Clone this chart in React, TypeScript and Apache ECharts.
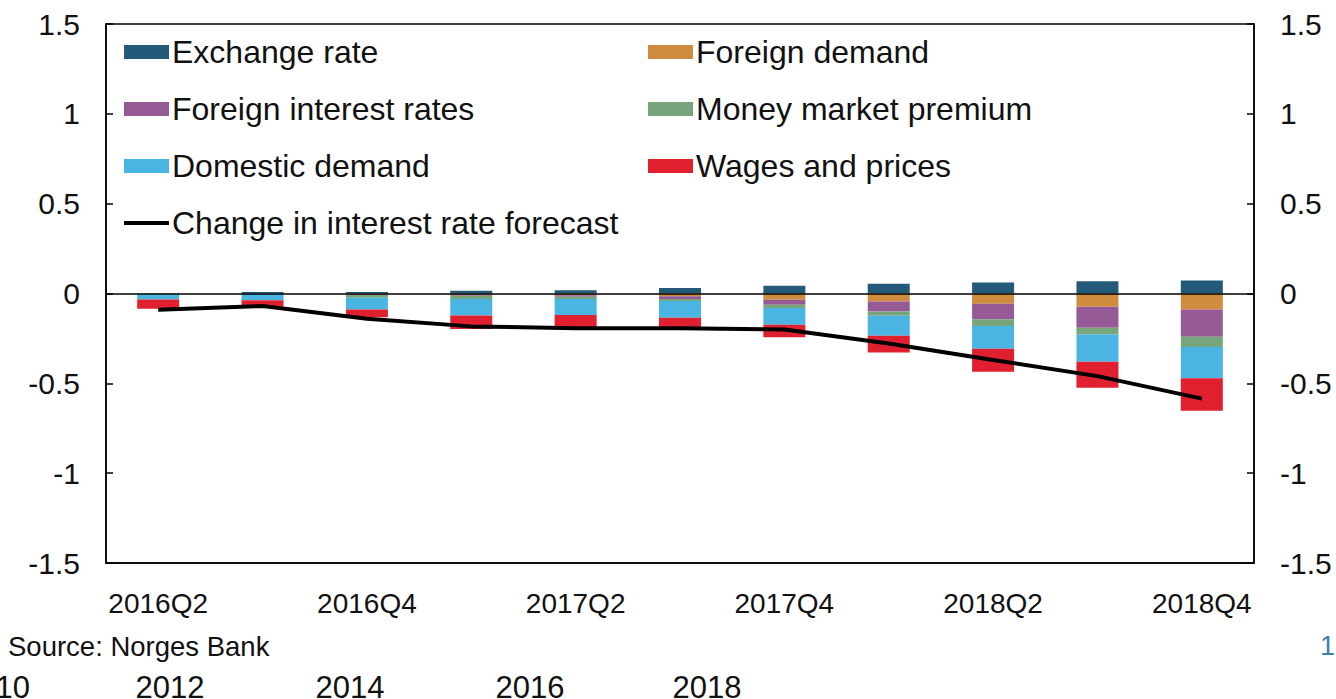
import React, { useEffect, useRef } from "react";
import * as echarts from "echarts";

const categories = ["2016Q2", "2016Q3", "2016Q4", "2017Q1", "2017Q2", "2017Q3", "2017Q4", "2018Q1", "2018Q2", "2018Q3", "2018Q4"];
const exchangeRate = [0, 0.008, 0.008, 0.015, 0.018, 0.031, 0.043, 0.054, 0.061, 0.068, 0.072];
const foreignDemand = [0, 0, -0.005, -0.006, -0.01, -0.015, -0.035, -0.044, -0.057, -0.074, -0.089];
const foreignInterestRates = [0, 0, -0.004, -0.006, -0.008, -0.015, -0.028, -0.056, -0.087, -0.117, -0.152];
const moneyMarketPremium = [-0.005, -0.003, -0.015, -0.018, -0.012, -0.012, -0.018, -0.024, -0.037, -0.037, -0.057];
const domesticDemand = [-0.028, -0.035, -0.065, -0.093, -0.09, -0.093, -0.093, -0.111, -0.126, -0.152, -0.174];
const wagesAndPrices = [-0.052, -0.035, -0.043, -0.074, -0.074, -0.068, -0.07, -0.093, -0.128, -0.144, -0.181];
const rateForecastChange = [-0.09, -0.07, -0.14, -0.183, -0.194, -0.194, -0.2, -0.278, -0.37, -0.46, -0.585];

const FONT = "Liberation Sans, Arial, sans-serif";

export default function App() {
  const ref = useRef<HTMLDivElement>(null);
  useEffect(() => {
    if (!ref.current) return;
    const chart = echarts.init(ref.current, undefined, { renderer: "svg" });
    const barDefs = [
      { name: "Exchange rate", data: exchangeRate, color: "#235a7a" },
      { name: "Foreign demand", data: foreignDemand, color: "#d08c3e" },
      { name: "Foreign interest rates", data: foreignInterestRates, color: "#955a96" },
      { name: "Money market premium", data: moneyMarketPremium, color: "#78a67c" },
      { name: "Domestic demand", data: domesticDemand, color: "#4ab4e2" },
      { name: "Wages and prices", data: wagesAndPrices, color: "#e0202e" },
    ];
    const lineName = "Change in interest rate forecast";
    const legendPos = [
      { left: 124, top: 36 },
      { left: 648, top: 36 },
      { left: 124, top: 93 },
      { left: 648, top: 93 },
      { left: 124, top: 150 },
      { left: 648, top: 150 },
      { left: 124, top: 207 },
    ];
    const names = [...barDefs.map((b) => b.name), lineName];
    const legends = names.map((n, i) => ({
      show: true,
      left: legendPos[i].left,
      top: legendPos[i].top,
      padding: 0,
      itemWidth: 45,
      itemHeight: i === 6 ? 4 : 14,
      selectedMode: false,
      icon: "rect",
      textStyle: { fontFamily: FONT, fontSize: 32, color: "#111", lineHeight: 30, padding: [0, 0, 0, -2] },
      data: [i === 6 ? { name: n, icon: "rect", itemStyle: { color: "#000" } } : { name: n }],
    }));

    const yAxisBase = {
      type: "value",
      min: -1.5,
      max: 1.5,
      interval: 0.5,
      splitLine: { show: false },
      axisLine: { show: true, lineStyle: { color: "#000", width: 1.5 } },
      axisTick: { show: true, inside: true, length: 7, lineStyle: { color: "#000", width: 1.5 } },
      axisLabel: { fontFamily: FONT, fontSize: 30, color: "#111", margin: 26 },
    };

    chart.setOption({
      animation: false,
      backgroundColor: "#fff",
      grid: { left: 106, right: 82, top: 24, bottom: 136, show: true, borderColor: "#000", borderWidth: 1.5 },
      legend: legends,
      xAxis: {
        type: "category",
        data: categories,
        boundaryGap: true,
        axisLine: { show: true, onZero: false, lineStyle: { color: "#000", width: 1.5 } },
        axisTick: { show: false },
        axisLabel: { interval: 1, fontFamily: FONT, fontSize: 28, color: "#111", margin: 26 },
      },
      yAxis: [
        { ...yAxisBase, position: "left" },
        { ...yAxisBase, position: "right" },
      ],
      series: [
        ...barDefs.map((b, i) => ({
          name: b.name,
          type: "bar",
          stack: "total",
          barWidth: 42,
          data: b.data,
          itemStyle: { color: b.color },
          markLine:
            i === 0
              ? {
                  silent: true,
                  symbol: "none",
                  label: { show: false },
                  lineStyle: { color: "#000", width: 1.5, type: "solid" },
                  data: [{ yAxis: 0 }],
                }
              : undefined,
        })),
        {
          name: lineName,
          type: "line",
          data: rateForecastChange,
          symbol: "none",
          lineStyle: { color: "#000", width: 4 },
          itemStyle: { color: "#000" },
          z: 5,
        },
      ],
      graphic: [
        { type: "text", left: 8, top: 632, style: { text: "Source: Norges Bank", fontFamily: FONT, fontSize: 27.5, fill: "#111" } },
        { type: "text", left: 1320, top: 632, style: { text: "1", fontFamily: FONT, fontSize: 27, fill: "#3b7fb4" } },
        { type: "text", x: 30, y: 672, style: { text: "2010", align: "right", fontFamily: FONT, fontSize: 31, fill: "#111" } },
        { type: "text", x: 170, y: 672, style: { text: "2012", align: "center", fontFamily: FONT, fontSize: 31, fill: "#111" } },
        { type: "text", x: 350, y: 672, style: { text: "2014", align: "center", fontFamily: FONT, fontSize: 31, fill: "#111" } },
        { type: "text", x: 530, y: 672, style: { text: "2016", align: "center", fontFamily: FONT, fontSize: 31, fill: "#111" } },
        { type: "text", x: 707, y: 672, style: { text: "2018", align: "center", fontFamily: FONT, fontSize: 31, fill: "#111" } },
      ],
    });
    return () => chart.dispose();
  }, []);
  return <div ref={ref} style={{ position: "absolute", left: 0, top: 0, width: 1336, height: 699 }} />;
}
